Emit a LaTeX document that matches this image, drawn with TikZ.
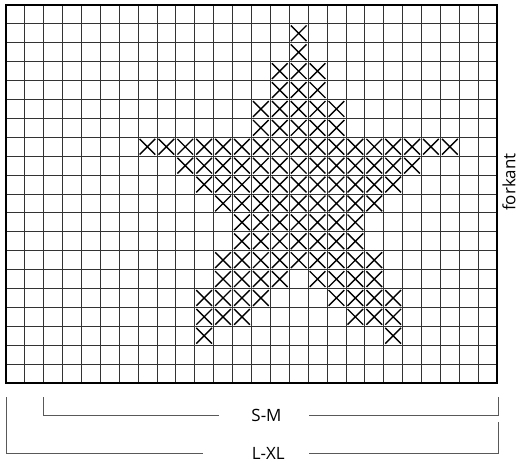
\documentclass[tikz,border=0pt]{standalone}
\usepackage{fontspec}
\setmainfont{Open Sans}
\begin{document}
\begin{tikzpicture}[x=1bp,y=-1bp,
  gridline/.style={line width=0.8bp,black!80},
  frameline/.style={line width=2bp,black},
  xmark/.style={line width=1.4bp,black},
  dimline/.style={line width=0.8bp,black!65},
  lbl/.style={font=\fontsize{17}{20}\selectfont,text=black,inner sep=0pt}]
\useasboundingbox (0,0) rectangle (520,466);
\def\xo{5.7}\def\yo{5}\def\cs{18.9}
% grid
\foreach \i in {1,...,25} \draw[gridline] ({\xo+\i*\cs},\yo) -- ({\xo+\i*\cs},383);
\foreach \j in {1,...,19} \draw[gridline] (\xo,{\yo+\j*\cs}) -- (497.1,{\yo+\j*\cs});
% crosses
\foreach \r/\a/\b in {1/15/15,2/15/15,3/14/16,4/14/16,5/13/17,6/13/17,7/7/23,8/9/21,9/10/20,10/11/19,11/12/18,12/12/18,13/11/19,14/11/14,14/16/19,15/10/13,15/17/20,16/10/12,16/18/20,17/10/10,17/20/20}
  \foreach \c in {\a,...,\b}
    \draw[xmark] ({\xo+\c*\cs+1.6},{\yo+\r*\cs+1.6}) -- ++(15.7,15.7)
                 ({\xo+\c*\cs+17.3},{\yo+\r*\cs+1.6}) -- ++(-15.7,15.7);
% frame
\draw[frameline] (\xo,\yo) rectangle (497.1,383);
% forkant
\node[lbl,rotate=90] (fk) at (509,182) {forkant};
% S-M
\node[lbl] (sm) at (266.5,415.5) {S-M};
\coordinate (sm1) at (43.5,397);
\coordinate (sm2) at (43.5,415.7);
\coordinate (sm3) at (219,415.7);
\coordinate (sm4) at (309,415.7);
\coordinate (sm5) at (498,415.7);
\coordinate (sm6) at (498,397);
\draw[dimline] (sm1) -- (sm2) -- (sm3);
\draw[dimline] (sm4) -- (sm5) -- (sm6);
% L-XL
\node[lbl] (lx) at (268.3,453) {L-XL};
\coordinate (lx1) at (6,397);
\coordinate (lx2) at (6,453);
\coordinate (lx3) at (203,453);
\coordinate (lx4) at (309,453);
\coordinate (lx5) at (498,453);
\coordinate (lx6) at (498,421.7);
\draw[dimline] (lx1) -- (lx2) -- (lx3);
\draw[dimline] (lx4) -- (lx5) -- (lx6);
\end{tikzpicture}
\end{document}
